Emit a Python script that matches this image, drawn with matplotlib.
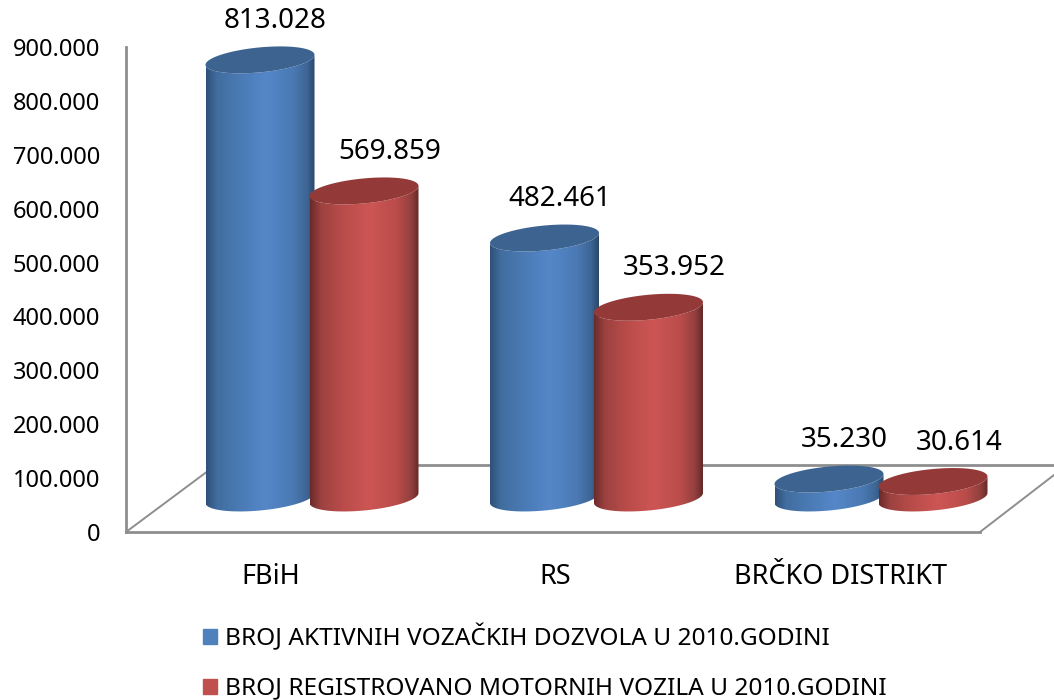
import matplotlib
matplotlib.use('Agg')
import matplotlib.pyplot as plt
from matplotlib.colors import LinearSegmentedColormap
from matplotlib.patches import Patch, PathPatch, Polygon
from matplotlib.path import Path
import numpy as np

plt.rcParams['font.family'] = ['Noto Sans', 'DejaVu Sans']

# values
regions = ['FBiH', 'RS', 'BRČKO DISTRIKT']
dozvole = [813028, 482461, 35230]
vozila = [569859, 353952, 30614]
dozvole_name = 'BROJ AKTIVNIH VOZAČKIH DOZVOLA U 2010.GODINI'
vozila_name = 'BROJ REGISTROVANO MOTORNIH VOZILA U 2010.GODINI'
y_ticks = [0, 100000, 200000, 300000, 400000, 500000, 600000, 700000, 800000, 900000]
y_max = 900000


def dotted(v):
    return f'{v:,}'.replace(',', '.')


W, H = 1054, 700
fig = plt.figure(figsize=(W / 100, H / 100), dpi=100)
# axis box in image pixels: x 126..1054, y 47..532
ax = fig.add_axes([126 / W, 1 - 532 / H, (W - 126) / W, 485 / H])

# pixel sizes in data units
px_x = 1 / 284.5
px_y = y_max / 485
x_lo = -186 * px_x
x_hi = x_lo + (W - 126) * px_x

half_w = 54.5 * px_x
half_h = 12.5 * px_y
slope = 5 * px_y / (54.5 * px_x * 1)  # ellipse tilt
base = 34 * px_y


def cylinder(cx, val, stops, top_color):
    t = np.linspace(0, 2 * np.pi, 121)
    ex = half_w * np.cos(t)
    ey = half_h * np.sin(t) + slope * ex

    # body outline: down the left side, round the front of the base, up the right
    low = np.linspace(np.pi, 2 * np.pi, 61)
    bx = cx + half_w * np.cos(low)
    by = base + half_h * np.sin(low) + slope * half_w * np.cos(low)
    up = low[::-1]
    tx = cx + half_w * np.cos(up)
    ty = base + val + half_h * np.sin(up) + slope * half_w * np.cos(up)
    body = np.column_stack([np.r_[bx, tx, bx[0]], np.r_[by, ty, by[0]]])

    cmap = LinearSegmentedColormap.from_list('c', stops)
    grad = np.linspace(0, 1, 256).reshape(1, -1)
    im = ax.imshow(grad, cmap=cmap, aspect='auto', interpolation='bilinear',
                   extent=[cx - half_w, cx + half_w, 0, base + val + 2 * half_h],
                   zorder=3)
    clip = PathPatch(Path(body), transform=ax.transData, fc='none', ec='none')
    ax.add_patch(clip)
    im.set_clip_path(clip)

    ax.add_patch(Polygon(np.column_stack([cx + ex, base + val + ey]), closed=True,
                         fc=top_color, ec='none', zorder=3, clip_on=False))


blue_stops = [(0, '#2f5078'), (0.1, '#416d9f'), (0.3, '#4a7ab4'), (0.55, '#5587c9'),
              (0.8, '#4a79b3'), (0.93, '#3d6594'), (1, '#2a476b')]
red_stops = [(0, '#6b2b2a'), (0.1, '#9c4240'), (0.3, '#b94c4a'), (0.55, '#cd5654'),
             (0.8, '#b94c4a'), (0.93, '#93403e'), (1, '#642927')]

for i in range(len(regions)):
    cylinder(i - 52 * px_x, dozvole[i], blue_stops, '#3d6491')
    ax.annotate(dotted(dozvole[i]), (i - 52 * px_x, base + dozvole[i]), xytext=(15 * 0.72, 39 * 0.72),
                textcoords='offset points', ha='center', va='center', fontsize=20,
                color='black', annotation_clip=False, zorder=5)
for i in range(len(regions)):
    cylinder(i + 52 * px_x, vozila[i], red_stops, '#933a38')
    ax.annotate(dotted(vozila[i]), (i + 52 * px_x, base + vozila[i]), xytext=(26 * 0.72, 39 * 0.72),
                textcoords='offset points', ha='center', va='center', fontsize=20,
                color='black', annotation_clip=False, zorder=5)

# floor of the 3d box
grid = '#8e8e8e'
back = 67 * px_y
ax.plot([x_lo, x_lo + 854 * px_x], [0, 0], color=grid, lw=2, zorder=1, clip_on=False)
ax.plot([x_lo, x_lo + 90 * px_x], [0, back], color=grid, lw=1.4, zorder=1, clip_on=False)
ax.plot([x_lo + 90 * px_x, x_hi], [back, back], color=grid, lw=2, zorder=1, clip_on=False)
ax.plot([x_lo + 854 * px_x, x_hi], [0, 57 * px_y], color=grid, lw=1.4, zorder=1, clip_on=False)

ax.set_xlim(x_lo, x_hi)
ax.set_ylim(0, y_max)
for s in ['top', 'right', 'bottom']:
    ax.spines[s].set_visible(False)
ax.spines['left'].set_color(grid)
ax.spines['left'].set_linewidth(2)
ax.patch.set_alpha(0)

ax.set_yticks(y_ticks)
ax.set_yticklabels([dotted(v) for v in y_ticks], fontsize=17)
ax.set_xticks(np.arange(len(regions)) - 41 * px_x)
ax.set_xticklabels(regions, fontsize=19.5)
ax.tick_params(axis='y', length=0, pad=18.5)
ax.tick_params(axis='x', length=0, pad=22)

handles = [Patch(color='#4f81bd', label=dozvole_name), Patch(color='#c0504d', label=vozila_name)]
fig.legend(handles=handles, loc='upper left', bbox_to_anchor=(196 / W, 1 - 617 / H), frameon=False,
           fontsize=17.6, handlelength=0.56, handleheight=0.56, handletextpad=0.34,
           labelspacing=1.03, borderpad=0.3, borderaxespad=0)

fig.savefig('out.png', dpi=100)
